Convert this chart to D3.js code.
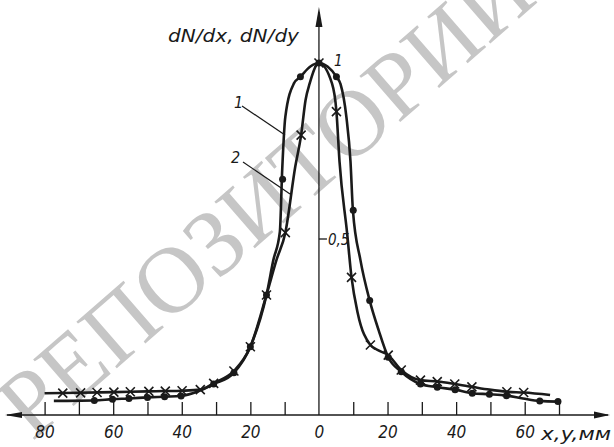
<!DOCTYPE html>
<html>
    <head>
        <meta charset="utf-8">
        <title>dN/dx, dN/dy</title>
        <script type="text/javascript" src="https://cdn.jsdelivr.net/npm/d3@7"></script>
        <style type="text/css">
            body { margin: 0; background: #fff; }
            text { font-family: "DejaVu Sans Condensed", "DejaVu Sans", sans-serif; font-style: italic; fill: #1a1a1a; }
            .wm { font-family: "Liberation Serif", "DejaVu Serif", serif; font-style: normal; fill: #c6c6c6; }
        </style>
    </head>
    <body>
        <script type="text/javascript">

            // curve 1 (dots) - the line
            var curve1X = [-77.3, -65.5, -60.2, -55.4, -50, -45, -40.2, -35, -30.7, -24.8, -20, -15.3, -13.3, -11.4, -10.7, -9.8, -7.3, -5.4, -2.5, 0, 2.5, 5.1, 6.3, 8.0, 9.2, 9.9, 12.1, 14.8, 17.4, 20.2, 24, 29.6, 34.5, 39.7, 44.7, 49.7, 54.7, 59.5, 64.4, 69.7];
            var curve1Y = [0.040, 0.041, 0.045, 0.047, 0.050, 0.052, 0.054, 0.068, 0.088, 0.12, 0.194, 0.341, 0.44, 0.52, 0.70, 0.847, 0.942, 0.961, 0.99, 1.0, 0.99, 0.961, 0.94, 0.847, 0.72, 0.582, 0.44, 0.325, 0.241, 0.164, 0.123, 0.088, 0.079, 0.072, 0.062, 0.059, 0.055, 0.047, 0.040, 0.038];
            // curve 1 measured points
            var dotsX = [-65.5, -60.2, -55.4, -50, -45, -40.2, -30.7, -24.8, -20, -15.3, -10.6, -5.4, 0, 5.1, 10.0, 14.8, 20.2, 24, 29.6, 34.5, 39.7, 44.7, 49.7, 54.7, 64.4, 69.7];
            var dotsY = [0.041, 0.045, 0.047, 0.050, 0.052, 0.054, 0.088, 0.12, 0.194, 0.341, 0.67, 0.961, 1.0, 0.961, 0.582, 0.325, 0.164, 0.123, 0.088, 0.079, 0.072, 0.062, 0.059, 0.055, 0.040, 0.038];

            // curve 2 (crosses) - the line
            var curve2X = [-80, -70, -60, -50, -45, -40, -34.6, -30.7, -24.8, -20, -15.3, -12.4, -9.8, -6.9, -5.2, -3.9, -2.7, 0, 3.8, 5.1, 6.0, 8.2, 9.5, 11.3, 15, 17.5, 20.2, 24, 29.6, 34.6, 39.6, 44.6, 49.7, 54.8, 59.7, 67.4];
            var curve2Y = [0.062, 0.063, 0.065, 0.067, 0.068, 0.069, 0.072, 0.090, 0.125, 0.194, 0.341, 0.44, 0.518, 0.706, 0.795, 0.895, 0.942, 1.0, 0.942, 0.862, 0.72, 0.518, 0.391, 0.29, 0.199, 0.183, 0.170, 0.128, 0.099, 0.095, 0.088, 0.080, 0.072, 0.066, 0.064, 0.057];
            // curve 2 measured points
            var crossX = [-74.7, -69.5, -64.7, -59.8, -55, -49.6, -44.8, -39.9, -34.6, -30.7, -24.8, -20, -15.3, -9.8, -5.2, 0, 5.1, 9.5, 15, 20.2, 24, 29.6, 34.5, 39.6, 44.6, 54.8, 59.7];
            var crossY = [0.062, 0.063, 0.064, 0.065, 0.066, 0.067, 0.068, 0.069, 0.072, 0.09, 0.125, 0.194, 0.341, 0.518, 0.795, 1.0, 0.862, 0.391, 0.199, 0.170, 0.128, 0.099, 0.095, 0.088, 0.080, 0.066, 0.064];

            var xTicks = [-80, -70, -60, -50, -40, -30, -20, -10, 0, 10, 20, 30, 40, 50, 60, 70];
            var xLabels = [-80, -60, -40, -20, 0, 20, 40, 60];

            function zip(xs, ys) {
                return xs.map(function(d, i) { return {x: d, y: ys[i]}; });
            }

            function makeChart() {
                var width = 614, height = 447;

                var svg = d3.select('body').append('svg')
                    .attr('width', width)
                    .attr('height', height);

                // watermark behind everything
                svg.append('text')
                    .attr('class', 'wm')
                    .attr('transform', 'translate(32,442) rotate(-41)')
                    .attr('font-size', 94)
                    .text('РЕПОЗИТОРИЙ');

                var xScale = d3.scaleLinear().domain([-80, 70]).range([44.6, 559]);
                var yScale = d3.scaleLinear().domain([0, 1]).range([415, 63]);
                var x0 = xScale(0), yBase = yScale(0);

                // x axis line with arrows at both ends
                svg.append('line')
                    .attr('x1', 7).attr('x2', 608)
                    .attr('y1', yBase).attr('y2', yBase)
                    .attr('stroke', '#1a1a1a').attr('stroke-width', 1.6);
                svg.append('path')
                    .attr('d', 'M610,' + yBase + 'L594,' + (yBase - 3.5) + 'L594,' + (yBase + 3.5) + 'Z')
                    .attr('fill', '#1a1a1a');
                svg.append('path')
                    .attr('d', 'M5,' + yBase + 'L22,' + (yBase - 3) + 'L22,' + (yBase + 3) + 'Z')
                    .attr('fill', '#1a1a1a');

                var xAxis = d3.axisBottom(xScale)
                    .tickValues(xTicks)
                    .tickSize(-13)
                    .tickPadding(11)
                    .tickFormat(function(d) { return xLabels.indexOf(d) >= 0 ? Math.abs(d) : ''; });

                var gx = svg.append('g')
                    .attr('transform', 'translate(0,' + yBase + ')')
                    .call(xAxis);
                gx.select('.domain').remove();
                gx.selectAll('.tick line')
                    .attr('stroke', '#1a1a1a').attr('stroke-width', 1.3)
                    .filter(function(d) { return d === 0; }).remove();
                gx.selectAll('.tick text')
                    .attr('font-size', 17)
                    .attr('font-family', null)
                    .attr('fill', '#1a1a1a');

                svg.append('text')
                    .attr('x', 541).attr('y', 440)
                    .attr('font-size', 17)
                    .attr('textLength', 70)
                    .attr('lengthAdjust', 'spacingAndGlyphs')
                    .text('x,y,мм');

                // y axis with arrow
                svg.append('line')
                    .attr('x1', x0).attr('x2', x0)
                    .attr('y1', yBase).attr('y2', 12)
                    .attr('stroke', '#1a1a1a').attr('stroke-width', 1.3);
                svg.append('path')
                    .attr('d', 'M' + x0 + ',7L' + (x0 - 3.5) + ',27L' + (x0 + 3.5) + ',27Z')
                    .attr('fill', '#1a1a1a');

                svg.append('line')
                    .attr('x1', x0).attr('x2', x0 + 8)
                    .attr('y1', yScale(0.5)).attr('y2', yScale(0.5))
                    .attr('stroke', '#1a1a1a').attr('stroke-width', 1.3);
                svg.append('text')
                    .attr('x', x0 + 9).attr('y', yScale(0.5) + 6)
                    .attr('font-size', 15)
                    .text('0,5');
                svg.append('text')
                    .attr('x', x0 + 15).attr('y', yScale(1) + 3)
                    .attr('font-size', 15)
                    .text('1');

                svg.append('text')
                    .attr('x', 168).attr('y', 42)
                    .attr('font-size', 18)
                    .attr('textLength', 131)
                    .attr('lengthAdjust', 'spacingAndGlyphs')
                    .text('dN/dx, dN/dy');

                // curves
                var line = d3.line()
                    .x(function(d) { return xScale(d.x); })
                    .y(function(d) { return yScale(d.y); })
                    .curve(d3.curveMonotoneX);

                var curves = [zip(curve1X, curve1Y), zip(curve2X, curve2Y)];
                svg.append('g').selectAll('path')
                    .data(curves)
                    .enter()
                    .append('path')
                        .attr('d', line)
                        .attr('fill', 'none')
                        .attr('stroke', '#1a1a1a')
                        .attr('stroke-width', 2.6);

                svg.append('g').selectAll('circle')
                    .data(zip(dotsX, dotsY))
                    .enter()
                    .append('circle')
                        .attr('cx', function(d) { return xScale(d.x); })
                        .attr('cy', function(d) { return yScale(d.y); })
                        .attr('r', 3.5)
                        .attr('fill', '#1a1a1a');

                var s = 4.5;
                svg.append('g').selectAll('path')
                    .data(zip(crossX, crossY))
                    .enter()
                    .append('path')
                        .attr('d', function(d) {
                            var cx = xScale(d.x), cy = yScale(d.y);
                            return 'M' + (cx - s) + ',' + (cy - s) + 'L' + (cx + s) + ',' + (cy + s) +
                                'M' + (cx - s) + ',' + (cy + s) + 'L' + (cx + s) + ',' + (cy - s);
                        })
                        .attr('stroke', '#1a1a1a')
                        .attr('stroke-width', 1.6)
                        .attr('fill', 'none');

                // curve labels with leaders
                svg.append('line')
                    .attr('x1', 242).attr('y1', 106).attr('x2', 285).attr('y2', 135)
                    .attr('stroke', '#1a1a1a').attr('stroke-width', 1.2);
                svg.append('text')
                    .attr('x', 234).attr('y', 108)
                    .attr('font-size', 16)
                    .text('1');
                svg.append('line')
                    .attr('x1', 243).attr('y1', 162).attr('x2', 290).attr('y2', 194)
                    .attr('stroke', '#1a1a1a').attr('stroke-width', 1.2);
                svg.append('text')
                    .attr('x', 231).attr('y', 163)
                    .attr('font-size', 16)
                    .text('2');
            }

            makeChart();

        </script>
    </body>
</html>
